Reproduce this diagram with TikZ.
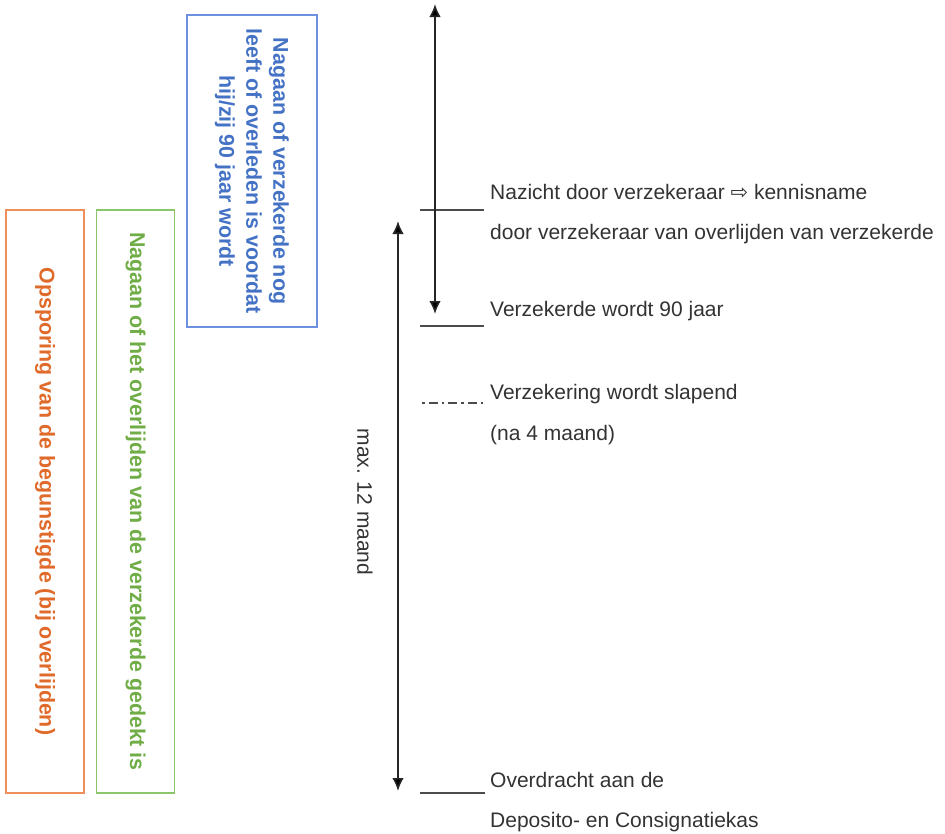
\documentclass[tikz,border=0pt]{standalone}
\usepackage{fontspec}
\setmainfont{Liberation Sans}
\newfontfamily\dvsans{DejaVu Sans}
\usetikzlibrary{arrows.meta}
\definecolor{txtgray}{HTML}{333333}
\definecolor{bluetxt}{HTML}{4472C4}
\definecolor{blueline}{HTML}{6F8FE0}
\definecolor{greentxt}{HTML}{70AD47}
\definecolor{greenline}{HTML}{8CC66A}
\definecolor{orangetxt}{HTML}{E06A2A}
\definecolor{orangeline}{HTML}{EE8E5A}
\tikzset{
  lbl/.style={anchor=base west, inner sep=0pt, text=txtgray, font=\fontsize{21}{25}\selectfont},
  vtext/.style={rotate=-90, inner sep=0pt, align=center, font=\bfseries\fontsize{21.4}{27}\selectfont},
  frame/.style={draw, line width=1.5pt, inner sep=0pt},
  tick/.style={draw=black!70, line width=1.5pt},
  dimarrow/.style={draw=black!85, line width=1.6pt, {Latex[length=13pt,width=11.5pt,fill=black]}-{Latex[length=13pt,width=11.5pt,fill=black]}}
}
\begin{document}
\begin{tikzpicture}[x=1pt,y=-1pt]
\useasboundingbox (0,0) rectangle (945,833);
% boxes
\node[frame, draw=blueline, minimum width=130pt, minimum height=312pt] (bbox) at (252,171) {};
\node[vtext, text=bluetxt] (btext) at (bbox.center) {Nagaan of verzekerde nog\\leeft of overleden is voordat\\hij/zij 90 jaar wordt};
\node[frame, draw=greenline, minimum width=78pt, minimum height=583pt] (gbox) at (135.5,501.5) {};
\node[vtext, text=greentxt] (gtext) at (gbox.center) {Nagaan of het overlijden van de verzekerde gedekt is};
\node[frame, draw=orangeline, minimum width=78pt, minimum height=583pt] (obox) at (45,501.5) {};
\node[vtext, text=orangetxt] (otext) at (obox.center) {Opsporing van de begunstigde (bij overlijden)};
% tick marks
\coordinate (t1a) at (420,210); \coordinate (t1b) at (484,210);
\coordinate (t2a) at (420,326); \coordinate (t2b) at (484,326);
\coordinate (t3a) at (422,403); \coordinate (t3b) at (483,403);
\coordinate (t4a) at (420,793); \coordinate (t4b) at (485,793);
\draw[tick] (t1a) -- (t1b);
\draw[tick] (t2a) -- (t2b);
\draw[tick, line width=1.4pt, dash pattern=on 2.5pt off 4pt on 9pt off 4pt] (t3a) -- (t3b);
\draw[tick] (t4a) -- (t4b);
% arrows
\coordinate (a1top) at (435,4); \coordinate (a1bot) at (435,314);
\coordinate (a2top) at (398,221); \coordinate (a2bot) at (398,791);
\draw[dimarrow] (a1top) -- (a1bot);
\draw[dimarrow] (a2top) -- (a2bot);
\node[rotate=-90, inner sep=0pt, text=txtgray, font=\fontsize{21}{25}\selectfont] (max) at (365,502) {max. 12 maand};
% labels
\node[lbl] (l1) at (490,199) {Nazicht door verzekeraar {\dvsans ⇨} kennisname};
\node[lbl] (l2) at (490,239) {door verzekeraar van overlijden van verzekerde};
\node[lbl] (l3) at (490,316) {Verzekerde wordt 90 jaar};
\node[lbl] (l4) at (490,399) {Verzekering wordt slapend};
\node[lbl] (l5) at (490,440) {(na 4 maand)};
\node[lbl] (l6) at (490,787) {Overdracht aan de};
\node[lbl] (l7) at (490,827) {Deposito- en Consignatiekas};
\end{tikzpicture}
\end{document}
